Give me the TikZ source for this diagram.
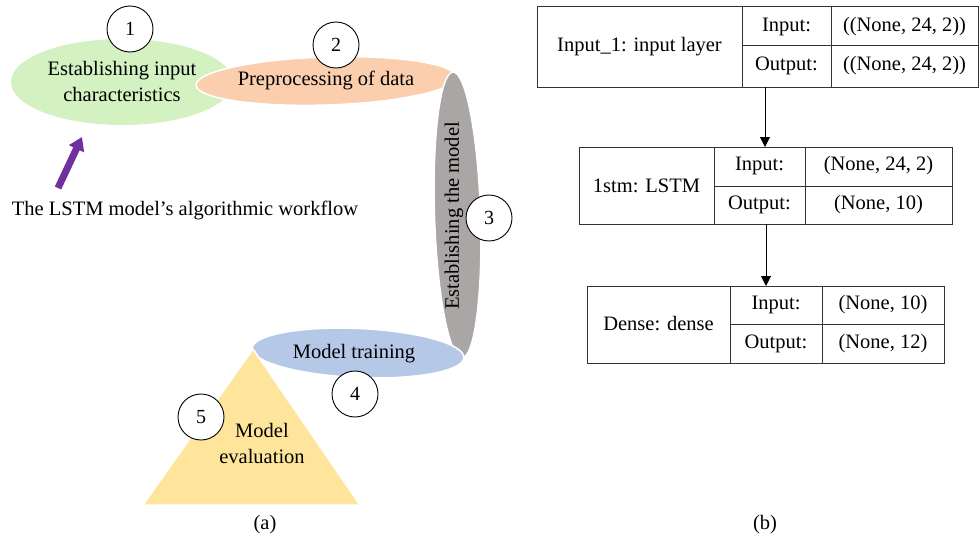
\documentclass[tikz,border=0pt]{standalone}
\usepackage{fontspec}
\setmainfont{Liberation Serif}
\usetikzlibrary{arrows.meta,shapes.geometric}
\definecolor{cgreen}{HTML}{D3F1C1}
\definecolor{corange}{HTML}{FBCFAE}
\definecolor{cgray}{HTML}{A9A6A5}
\definecolor{cblue}{HTML}{B6C8E8}
\definecolor{cyellow}{HTML}{FEE59B}
\definecolor{cpurple}{HTML}{7030A0}
\tikzset{
  txt/.style={font=\fontsize{20.5}{26}\selectfont, align=center, inner sep=0pt},
  num/.style={circle, draw=black, line width=0.9pt, fill=white, minimum size=46pt, inner sep=0pt, font=\fontsize{20}{22}\selectfont},
  blob/.style={draw=white, line width=1.5pt},
  cell/.style={draw=black!80, line width=1pt, font=\fontsize{20.5}{24}\selectfont, inner sep=0pt},
  flow/.style={-{Triangle[width=10pt,length=10pt]}, line width=1pt}
}
\begin{document}
\begin{tikzpicture}[x=1pt,y=-1pt]
\useasboundingbox (0,0) rectangle (980,543);
% shapes
\fill[cgreen] (122,82) ellipse [x radius=111pt, y radius=43pt];
\draw[blob, fill=corange, rotate around={1.8:(326,81)}] (326,81) ellipse [x radius=130pt, y radius=24pt];
\draw[blob, fill=cgray, rotate around={1.8:(457.5,215)}] (457.5,215) ellipse [x radius=23pt, y radius=143pt];
\draw[blob, fill=cblue, rotate around={-2.5:(358,353)}] (358,353) ellipse [x radius=106pt, y radius=24.5pt];
\draw[blob, fill=cyellow] (253,349) -- (360,505) -- (143,505) -- cycle;
% texts
\node[txt] (t1) at (122,81) {Establishing input\\characteristics};
\node[txt] (t2) at (326,80) {Preprocessing of data};
\node[txt, rotate=90] (t3) at (454,216) {Establishing the model};
\node[txt] (t4) at (354,354) {Model training};
\node[txt] (t5) at (262,443) {Model\\evaluation};
\node[txt] (wf) at (185,210) {The LSTM model’s algorithmic workflow};
\node[txt] (ca) at (265,525) {(a)};
\node[txt] (cb) at (765,525) {(b)};
% numbers
\node[num] (n1) at (130,29) {1};
\node[num] (n2) at (336,45) {2};
\node[num] (n3) at (489,218) {3};
\node[num] (n4) at (355,394) {4};
\node[num] (n5) at (201,417) {5};
% purple arrow
\coordinate (pa) at (58,188);
\coordinate (pb) at (82,137);
\draw[cpurple, line width=7pt, -{Triangle[width=16pt,length=13pt]}] (pa) -- (pb);
% right panel
\draw[cell] (537,7) rectangle (978,87);
\draw[cell] (742,7) -- (742,87) (831,7) -- (831,87) (742,46) -- (978,46);
\node[cell, draw=none] (l1) at (639.5,47) {Input\_1: input layer};
\node[cell, draw=none] at (786.5,27) {Input:};
\node[cell, draw=none] at (786.5,66) {Output:};
\node[cell, draw=none] at (904.5,27) {((None, 24, 2))};
\node[cell, draw=none] at (904.5,66) {((None, 24, 2))};
\coordinate (b1) at (765,87);
\draw[cell] (579,147) rectangle (952,224);
\draw[cell] (714,147) -- (714,224) (805,147) -- (805,224) (714,186) -- (952,186);
\node[cell, draw=none] (l2) at (646.5,186) {1stm: LSTM};
\node[cell, draw=none] at (759.5,166) {Input:};
\node[cell, draw=none] at (759.5,205) {Output:};
\node[cell, draw=none] at (878.5,166) {(None, 24, 2)};
\node[cell, draw=none] at (878.5,205) {(None, 10)};
\coordinate (b2t) at (765,147);
\coordinate (b2b) at (766,224);
\draw[cell] (587,286) rectangle (944,363);
\draw[cell] (730,286) -- (730,363) (822,286) -- (822,363) (730,324) -- (944,324);
\node[cell, draw=none] (l3) at (658.5,324) {Dense: dense};
\node[cell, draw=none] at (776,305) {Input:};
\node[cell, draw=none] at (776,344) {Output:};
\node[cell, draw=none] at (883,305) {(None, 10)};
\node[cell, draw=none] at (883,344) {(None, 12)};
\coordinate (b3t) at (766,286);
\draw[flow] (b1) -- (b2t);
\draw[flow] (b2b) -- (b3t);
\end{tikzpicture}
\end{document}
